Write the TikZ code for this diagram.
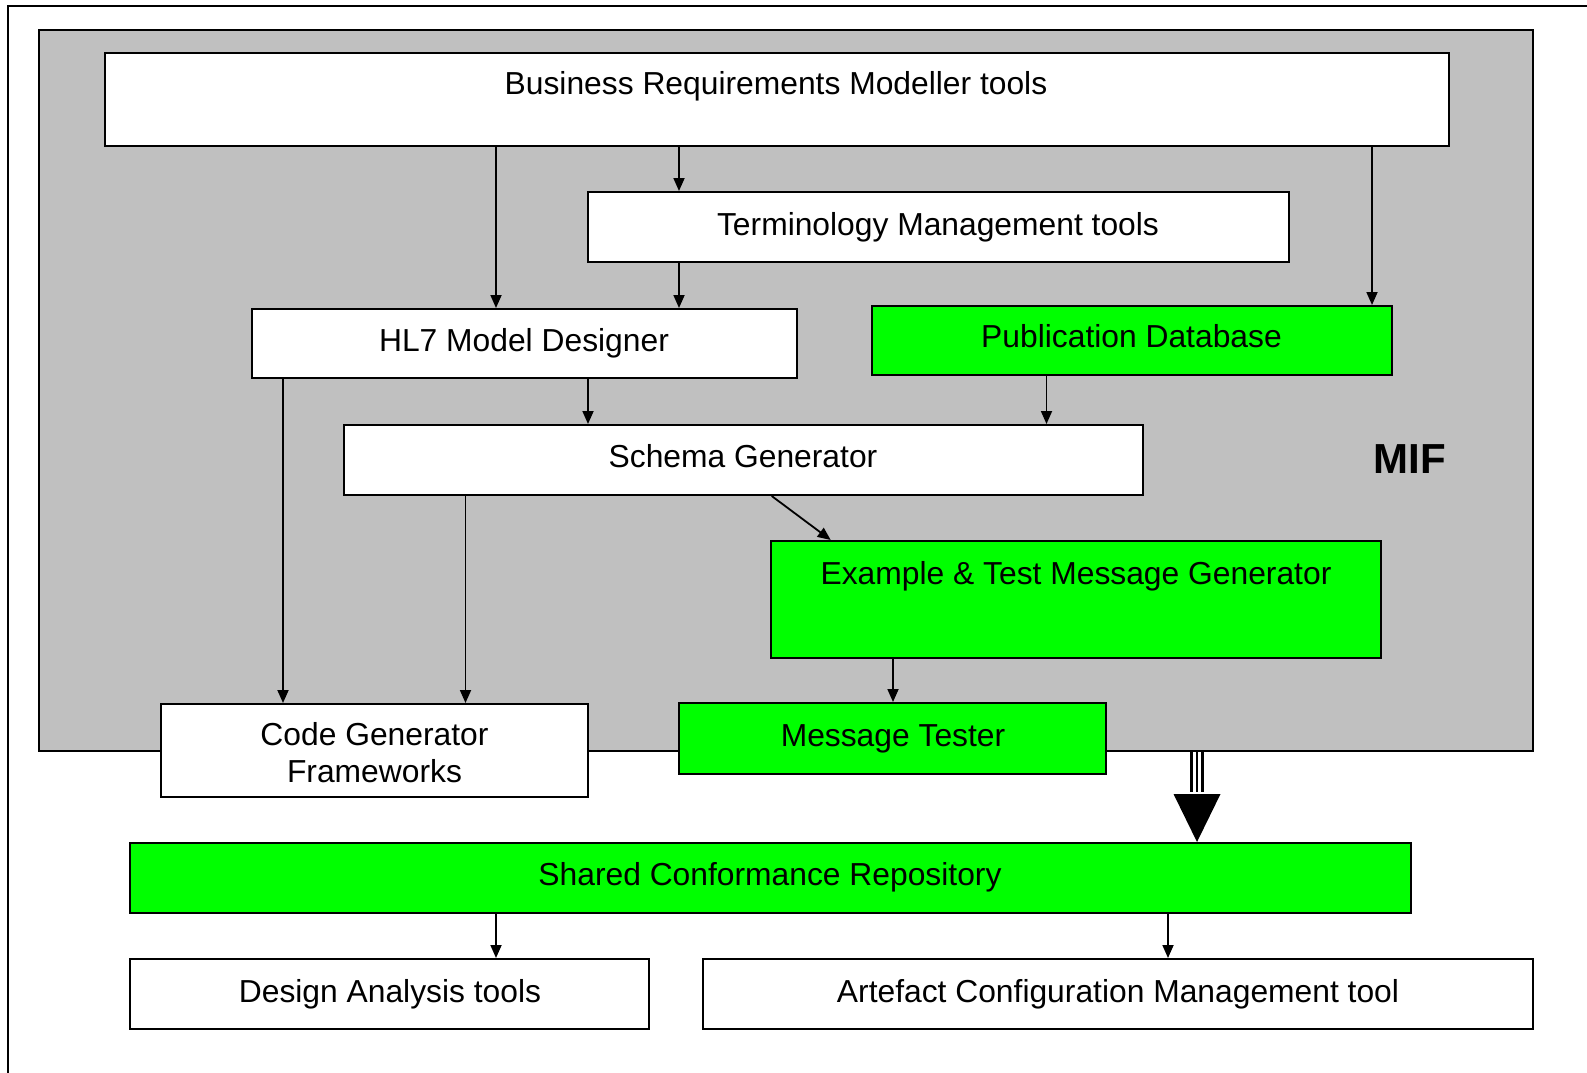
\documentclass[tikz,border=0pt]{standalone}
\usepackage{fontspec}
\setmainfont{Liberation Sans}
\usetikzlibrary{fit,arrows.meta,calc}
\definecolor{mifgray}{HTML}{C0C0C0}
\definecolor{brightgreen}{HTML}{00FF00}
\begin{document}
\begin{tikzpicture}[x=1pt,y=-1pt,
  box/.style={draw=black,line width=2pt,fill=white,inner sep=0pt,rectangle},
  gbox/.style={box,fill=brightgreen},
  lbl/.style={anchor=base,inner sep=0pt,font=\fontsize{31.8}{37.7}\selectfont},
  arr/.style={line width=1.8pt,-{Triangle[width=11pt,length=13pt]}}]
\useasboundingbox (0,0) rectangle (1587,1073);
\fill[white] (0,0) rectangle (1587,1073);
\node[draw=black,line width=2pt,inner sep=0pt,fit={(8,6) (1700,1200)}] (frame) {};
\node[box,fill=mifgray,fit={(39,29.7) (1533,751)}] (mif) {};
\node[box,fit={(104.7,52.7) (1449,145.7)}] (brm) {};
\node[box,fit={(588,192) (1289,262)}] (term) {};
\node[box,fit={(252,309) (797,378)}] (hl7) {};
\node[gbox,fit={(872,306) (1392,374.5)}] (pub) {};
\node[box,fit={(344,425) (1143,495)}] (schema) {};
\node[gbox,fit={(771,541) (1381,658)}] (example) {};
\node[box,fit={(161,704) (588,797)}] (codegen) {};
\node[gbox,fit={(679,703) (1106,774)}] (tester) {};
\node[gbox,fit={(130,843) (1411,913)}] (scr) {};
\node[box,fit={(130,959) (649,1029)}] (design) {};
\node[box,fit={(703,959) (1533,1029)}] (artefact) {};
% labels
\node[lbl] (tbrm) at (776,94.3) {Business Requirements Modeller tools};
\node[lbl] (tterm) at (938,235) {Terminology Management tools};
\node[lbl] (thl7) at (524,351) {HL7 Model Designer};
\node[lbl] (tpub) at (1131.5,347) {Publication Database};
\node[lbl] (tschema) at (743,467) {Schema Generator};
\node[lbl] (texample) at (1076,584) {Example \& Test Message Generator};
\node[lbl] (tcode1) at (374.5,745) {Code Generator};
\node[lbl] (tcode2) at (374.5,782.7) {Frameworks};
\node[lbl] (ttester) at (893,746) {Message Tester};
\node[lbl] (tscr) at (770,885) {Shared Conformance Repository};
\node[lbl] (tdesign) at (390,1002) {Design Analysis tools};
\node[lbl] (tartefact) at (1118,1002) {Artefact Configuration Management tool};
\node[anchor=base,inner sep=0pt,font=\fontsize{42}{50}\selectfont\bfseries] (tmif) at (1410,473.3) {MIF};
% connectors
\draw[arr] (496,0 |- brm.south) -- (496,0 |- hl7.north);
\draw[arr] (679,0 |- brm.south) -- (679,0 |- term.north);
\draw[arr] (679,0 |- term.south) -- (679,0 |- hl7.north);
\draw[arr] (1372,0 |- brm.south) -- (1372,0 |- pub.north);
\draw[arr] (283,0 |- hl7.south) -- (283,0 |- codegen.north);
\draw[arr] (588,0 |- hl7.south) -- (588,0 |- schema.north);
\draw[arr] (1046.5,0 |- pub.south) -- (1046.5,0 |- schema.north);
\draw[arr] (465.5,0 |- schema.south) -- (465.5,0 |- codegen.north);
\draw[arr] (771.7,0 |- schema.south) -- (830.7,0 |- example.north);
\draw[arr] (893,0 |- example.south) -- (893,0 |- tester.north);
\draw[arr] (496,0 |- scr.south) -- (496,0 |- design.north);
\draw[arr] (1168,0 |- scr.south) -- (1168,0 |- artefact.north);
% big arrow
\coordinate (bigtop) at (1197,0 |- mif.south);
\coordinate (bigtip) at (1197,0 |- scr.north);
\foreach \dx in {-5.2,0,5.2}
  \draw[line width=2.8pt] ($(bigtop)+(\dx,0)$) -- ($(bigtip)+(\dx,-50)$);
\fill[black] ($(bigtip)+(-23.5,-48)$) -- ($(bigtip)+(23.5,-48)$) -- (bigtip) -- cycle;
\end{tikzpicture}
\end{document}
